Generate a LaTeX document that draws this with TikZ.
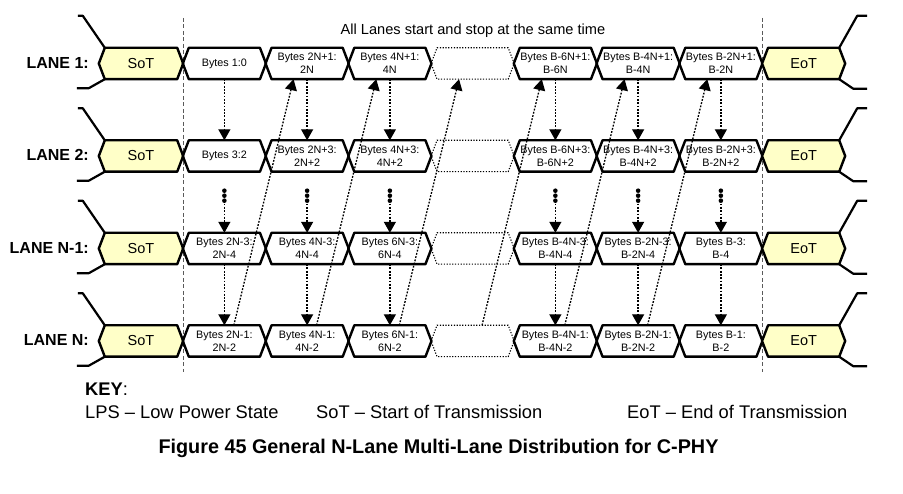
\documentclass[tikz,border=0pt]{standalone}
\usepackage{fontspec}
\setmainfont{Liberation Sans}
\usetikzlibrary{arrows.meta}
\definecolor{sotfill}{RGB}{255,255,200}
\definecolor{sepgray}{RGB}{90,90,90}
% style, text style, name, x centre, width, y centre, text
\newcommand{\hexbox}[7]{%
  \node[boxshape, minimum width=#5pt] (#3) at (#4,#6) {};
  \path[#1] (#3.west) -- ([xshift=6pt]#3.north west) -- ([xshift=-6pt]#3.north east)
     -- (#3.east) -- ([xshift=-6pt]#3.south east) -- ([xshift=6pt]#3.south west) -- cycle;
  \node[#2] (#3t) at (#3.center) {#7};
}
\begin{document}
\begin{tikzpicture}[x=1pt,y=-1pt,
  boxshape/.style={minimum height=31pt, inner sep=0pt},
  solidhex/.style={draw=black, line width=2.4pt, line join=round},
  sothex/.style={solidhex, fill=sotfill},
  dothex/.style={draw=black, line width=1.1pt, dash pattern=on 1.2pt off 1.6pt},
  bytetext/.style={font=\fontsize{10.8}{13.4}\selectfont, align=center, inner sep=0pt},
  sottext/.style={font=\fontsize{14.5}{16}\selectfont, inner sep=0pt},
  conn/.style={line width=1.3pt, dash pattern=on 1.8pt off 1.5pt},
  varrow/.style={conn, -{Triangle[length=11pt,width=12pt]}},
  lpsline/.style={line width=2.2pt, line join=round},
  sepline/.style={draw=sepgray, line width=0.9pt, dash pattern=on 4pt off 2.5pt},
  lanelabel/.style={font=\bfseries\fontsize{16}{18}\selectfont, anchor=base east, inner sep=0pt},
  keytext/.style={font=\fontsize{18.3}{20}\selectfont, anchor=base west, inner sep=0pt}
]
\useasboundingbox (0,0) rectangle (903,494);

% separators
\draw[sepline] (183,18) -- (183,372);
\draw[sepline] (762.25,18) -- (762.25,372);

% top text
\node[font=\fontsize{14.6}{16}\selectfont, anchor=base, inner sep=0pt] (toptext) at (473,34.3) {All Lanes start and stop at the same time};

% ---------- LANE 1 ----------
\hexbox{sothex}{sottext}{l1s}{141}{84}{63.5}{SoT}
\hexbox{solidhex}{bytetext}{l1c1}{224.375}{82.75}{63.5}{Bytes 1:0}
\hexbox{solidhex}{bytetext}{l1c2}{307.125}{82.75}{63.5}{Bytes 2N+1:\\2N}
\hexbox{solidhex}{bytetext}{l1c3}{389.875}{82.75}{63.5}{Bytes 4N+1:\\4N}
\hexbox{dothex}{bytetext}{l1c4}{472.625}{82.75}{63.5}{}
\hexbox{solidhex}{bytetext}{l1c5}{555.375}{82.75}{63.5}{Bytes B-6N+1:\\B-6N}
\hexbox{solidhex}{bytetext}{l1c6}{638.125}{82.75}{63.5}{Bytes B-4N+1:\\B-4N}
\hexbox{solidhex}{bytetext}{l1c7}{720.875}{82.75}{63.5}{Bytes B-2N+1:\\B-2N}
\hexbox{sothex}{sottext}{l1e}{803.625}{82.75}{63.5}{EoT}

% ---------- LANE 2 ----------
\hexbox{sothex}{sottext}{l2s}{141}{84}{156}{SoT}
\hexbox{solidhex}{bytetext}{l2c1}{224.375}{82.75}{156}{Bytes 3:2}
\hexbox{solidhex}{bytetext}{l2c2}{307.125}{82.75}{156}{Bytes 2N+3:\\2N+2}
\hexbox{solidhex}{bytetext}{l2c3}{389.875}{82.75}{156}{Bytes 4N+3:\\4N+2}
\hexbox{dothex}{bytetext}{l2c4}{472.625}{82.75}{156}{}
\hexbox{solidhex}{bytetext}{l2c5}{555.375}{82.75}{156}{Bytes B-6N+3:\\B-6N+2}
\hexbox{solidhex}{bytetext}{l2c6}{638.125}{82.75}{156}{Bytes B-4N+3:\\B-4N+2}
\hexbox{solidhex}{bytetext}{l2c7}{720.875}{82.75}{156}{Bytes B-2N+3:\\B-2N+2}
\hexbox{sothex}{sottext}{l2e}{803.625}{82.75}{156}{EoT}

% ---------- LANE N-1 ----------
\hexbox{sothex}{sottext}{l3s}{141}{84}{248.5}{SoT}
\hexbox{solidhex}{bytetext}{l3c1}{224.375}{82.75}{248.5}{Bytes 2N-3:\\2N-4}
\hexbox{solidhex}{bytetext}{l3c2}{307.125}{82.75}{248.5}{Bytes 4N-3:\\4N-4}
\hexbox{solidhex}{bytetext}{l3c3}{389.875}{82.75}{248.5}{Bytes 6N-3:\\6N-4}
\hexbox{dothex}{bytetext}{l3c4}{472.625}{82.75}{248.5}{}
\hexbox{solidhex}{bytetext}{l3c5}{555.375}{82.75}{248.5}{Bytes B-4N-3:\\B-4N-4}
\hexbox{solidhex}{bytetext}{l3c6}{638.125}{82.75}{248.5}{Bytes B-2N-3:\\B-2N-4}
\hexbox{solidhex}{bytetext}{l3c7}{720.875}{82.75}{248.5}{Bytes B-3:\\B-4}
\hexbox{sothex}{sottext}{l3e}{803.625}{82.75}{248.5}{EoT}

% ---------- LANE N ----------
\hexbox{sothex}{sottext}{l4s}{141}{84}{341}{SoT}
\hexbox{solidhex}{bytetext}{l4c1}{224.375}{82.75}{341}{Bytes 2N-1:\\2N-2}
\hexbox{solidhex}{bytetext}{l4c2}{307.125}{82.75}{341}{Bytes 4N-1:\\4N-2}
\hexbox{solidhex}{bytetext}{l4c3}{389.875}{82.75}{341}{Bytes 6N-1:\\6N-2}
\hexbox{dothex}{bytetext}{l4c4}{472.625}{82.75}{341}{}
\hexbox{solidhex}{bytetext}{l4c5}{555.375}{82.75}{341}{Bytes B-4N-1:\\B-4N-2}
\hexbox{solidhex}{bytetext}{l4c6}{638.125}{82.75}{341}{Bytes B-2N-1:\\B-2N-2}
\hexbox{solidhex}{bytetext}{l4c7}{720.875}{82.75}{341}{Bytes B-1:\\B-2}
\hexbox{sothex}{sottext}{l4e}{803.625}{82.75}{341}{EoT}

% lane start / end transitions
\foreach \l in {1,2,3,4} {
  \draw[lpsline] ([xshift=6pt]l\l s.north west) -- ++(-22,-32) -- ++(-5,0);
  \draw[lpsline] ([xshift=6pt]l\l s.south west) -- ++(-16,9) -- ++(-12,0);
  \draw[lpsline] ([xshift=-6pt]l\l e.north east) -- ++(18,-32) -- ++(10,0);
  \draw[lpsline] ([xshift=-6pt]l\l e.south east) -- ++(14,9.5) -- ++(14,0);
}

% vertical distribution arrows
\foreach \c in {1,2,3,5,6,7} {
  \draw[varrow] (l1c\c.south) -- (l2c\c.north);
  \fill (l2c\c.south) ++(0,19) circle (2.3pt);
  \fill (l2c\c.south) ++(0,24) circle (2.3pt);
  \fill (l2c\c.south) ++(0,29) circle (2.3pt);
  \coordinate (dots\c) at ([yshift=-32pt]l2c\c.south);
  \draw[varrow] (dots\c) -- (l3c\c.north);
  \draw[varrow] (l3c\c.south) -- (l4c\c.north);
}

% diagonal wrap-around arrows
\foreach \a/\b in {1/2,2/3,3/4,4/5,5/6,6/7} {
  \draw[varrow] ([xshift=51pt]l4c\a.north west) -- ([xshift=28pt]l1c\b.south west);
}

% lane labels
\node[lanelabel] (lab1) at (89,68.4) {LANE 1:};
\node[lanelabel] (lab2) at (89,160.9) {LANE 2:};
\node[lanelabel] (lab3) at (89,253.4) {LANE N-1:};
\node[lanelabel] (lab4) at (89,345.9) {LANE N:};

% key
\node[keytext] (key) at (85,395.5) {\textbf{KEY}:};
\node[keytext] (keylps) at (85,418.5) {LPS – Low Power State};
\node[keytext] (keysot) at (316,418.5) {SoT – Start of Transmission};
\node[keytext] (keyeot) at (627,418.5) {EoT – End of Transmission};

% caption
\node[font=\bfseries\fontsize{19.8}{22}\selectfont, anchor=base, inner sep=0pt] (caption) at (438.5,453.5) {Figure 45 General N-Lane Multi-Lane Distribution for C-PHY};
\end{tikzpicture}
\end{document}
